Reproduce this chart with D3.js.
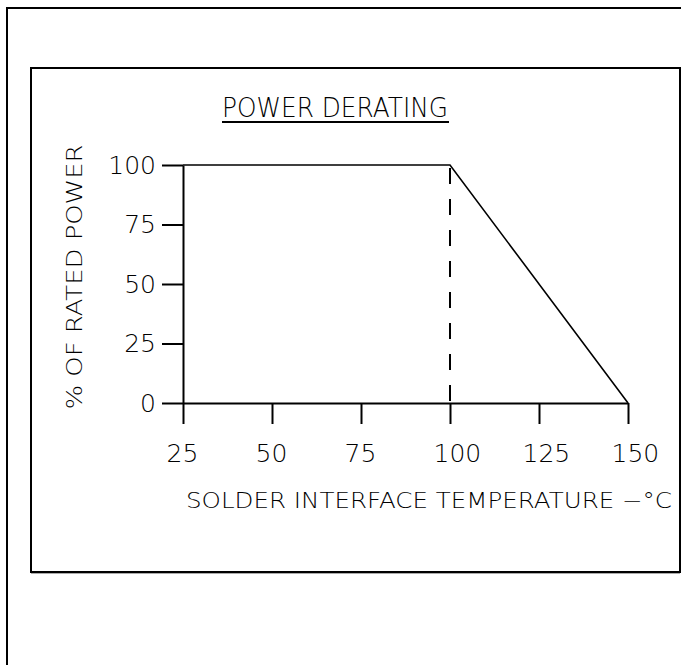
<!DOCTYPE html>
<html>
<head>
<meta charset="utf-8">
<script src="https://cdn.jsdelivr.net/npm/d3@7"></script>
<style>
  body { margin: 0; background: #fff; }
  svg { display: block; }
  text { font-family: "DejaVu Sans", sans-serif; font-weight: 200; fill: #000; }
</style>
</head>
<body>
<div id="chart"></div>
<script>
const width = 681
const height = 665

// data
const temps = [25, 100, 150]
const power = [100, 100, 0]
const kneeTemp = 100

const xTicks = [25, 50, 75, 100, 125, 150]
const yTicks = [0, 25, 50, 75, 100]

const title = "POWER DERATING"
const xTitle = "SOLDER INTERFACE TEMPERATURE \u2212\u00B0C"
const yTitle = "% OF RATED POWER"

const svg = d3.select("#chart")
  .append("svg")
    .attr("width", width)
    .attr("height", height)

// frames
svg.append("rect")
  .attr("x", 7).attr("y", 8)
  .attr("width", 700).attr("height", 700)
  .attr("fill", "none").attr("stroke", "#000").attr("stroke-width", 2)

svg.append("rect")
  .attr("x", 31).attr("y", 68)
  .attr("width", 649).attr("height", 504)
  .attr("fill", "none").attr("stroke", "#000").attr("stroke-width", 2)
svg.append("line")
  .attr("x1", 31).attr("x2", 680).attr("y1", 573.5).attr("y2", 573.5)
  .attr("stroke", "#aaa").attr("stroke-width", 1)

const x = d3.scaleLinear().domain([25, 150]).range([183, 628])
const y = d3.scaleLinear().domain([0, 100]).range([403, 165])

// axes
const yAxis = svg.append("g")
  .attr("transform", "translate(" + x(25) + ",0)")
  .call(d3.axisLeft(y).tickValues(yTicks).tickSize(21).tickSizeOuter(0).tickPadding(6))
const xAxis = svg.append("g")
  .attr("transform", "translate(0," + y(0) + ")")
  .call(d3.axisBottom(x).tickValues(xTicks).tickSize(21).tickSizeOuter(0).tickPadding(20))

svg.selectAll(".domain, .tick line")
  .attr("stroke", "#000").attr("stroke-width", 2)

yAxis.selectAll("text")
  .attr("font-size", 25).attr("font-family", "DejaVu Sans, sans-serif")
  .attr("font-weight", 200)
// labels sit left-justified just before each tick, like the drawing
xAxis.selectAll("text")
  .attr("font-size", 25).attr("font-family", "DejaVu Sans, sans-serif")
  .attr("font-weight", 200)
  .attr("text-anchor", "start")
  .attr("x", -17)

// curve
const pts = temps.map((t, i) => [t, power[i]])
svg.append("path")
  .datum(pts)
  .attr("fill", "none")
  .attr("stroke", "#000")
  .attr("stroke-width", 1.6)
  .attr("d", d3.line().x(d => x(d[0])).y(d => y(d[1])))

// dashed knee marker
svg.append("line")
  .attr("x1", x(kneeTemp)).attr("x2", x(kneeTemp))
  .attr("y1", y(100) + 3).attr("y2", y(0))
  .attr("stroke", "#000").attr("stroke-width", 2)
  .attr("stroke-dasharray", "16,15")

// titles
svg.append("text")
  .attr("x", 335).attr("y", 117)
  .attr("text-anchor", "middle")
  .attr("font-size", 26)
  .attr("textLength", 226).attr("lengthAdjust", "spacingAndGlyphs")
  .text(title)
svg.append("line")
  .attr("x1", 222).attr("x2", 449)
  .attr("y1", 122).attr("y2", 122)
  .attr("stroke", "#000").attr("stroke-width", 2)

svg.append("text")
  .attr("x", 429).attr("y", 508)
  .attr("text-anchor", "middle")
  .attr("font-size", 22)
  .attr("textLength", 486).attr("lengthAdjust", "spacingAndGlyphs")
  .text(xTitle)

svg.append("text")
  .attr("transform", "translate(82,277) rotate(-90)")
  .attr("text-anchor", "middle")
  .attr("font-size", 21)
  .attr("textLength", 265).attr("lengthAdjust", "spacingAndGlyphs")
  .text(yTitle)
</script>
</body>
</html>
